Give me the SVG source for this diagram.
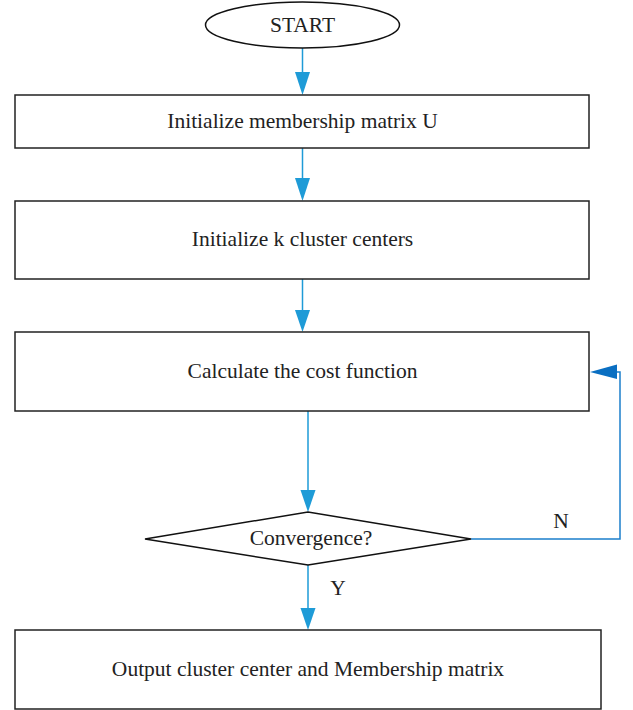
<svg xmlns="http://www.w3.org/2000/svg" width="633" height="710" viewBox="0 0 633 710">
<defs>
<style>
.box{fill:#fff;stroke:#222;stroke-width:1.5}
.t{font-family:"Liberation Serif","Times New Roman",serif;font-size:21.5px;fill:#222;text-anchor:middle}
.c{fill:none;stroke:#1e9bd7;stroke-width:1.5}
.h{fill:#1e9bd7}
</style>
</defs>
<rect width="633" height="710" fill="#fff"/>
<g id="connectors">
<line class="c" x1="302.5" y1="48" x2="302.5" y2="74"/>
<polygon class="h" points="295,72 310,72 302.5,95"/>
<line class="c" x1="302.5" y1="148" x2="302.5" y2="180"/>
<polygon class="h" points="295,178 310,178 302.5,201"/>
<line class="c" x1="302.5" y1="279" x2="302.5" y2="312"/>
<polygon class="h" points="295,310 310,310 302.5,332"/>
<line class="c" x1="308" y1="411" x2="308" y2="492"/>
<polygon class="h" points="300.5,490 315.5,490 308,512"/>
<line class="c" x1="308" y1="565" x2="308" y2="610"/>
<polygon class="h" points="300.5,608 315.5,608 308,630"/>
<polyline fill="none" stroke="#1b7fcc" stroke-width="1.5" points="471,539 620,539 620,372 616,372"/>
<polygon fill="#0a6fc2" points="617,364.5 617,379 590,372"/>
<text class="t" x="561" y="528">N</text>
<text class="t" x="338" y="595">Y</text>
</g>
<g id="start">
<ellipse cx="302.5" cy="25" rx="97" ry="23" fill="#fff" stroke="#111" stroke-width="1.5"/>
<text class="t" x="302.5" y="32">START</text>
</g>
<g id="init-u">
<rect class="box" x="15" y="95" width="574" height="53"/>
<text class="t" x="302.5" y="128">Initialize membership matrix U</text>
</g>
<g id="init-k">
<rect class="box" x="15" y="201" width="574" height="78"/>
<text class="t" x="302.5" y="246">Initialize k cluster centers</text>
</g>
<g id="cost">
<rect class="box" x="15" y="332" width="574" height="79"/>
<text class="t" x="302.5" y="378">Calculate the cost function</text>
</g>
<g id="convergence">
<polygon points="145,539 308,512 471,539 308,565" fill="#fff" stroke="#111" stroke-width="1.5"/>
<text class="t" x="311" y="545">Convergence?</text>
</g>
<g id="output">
<rect class="box" x="15" y="630" width="586" height="79"/>
<text class="t" x="308" y="676">Output cluster center and Membership matrix</text>
</g>
</svg>
